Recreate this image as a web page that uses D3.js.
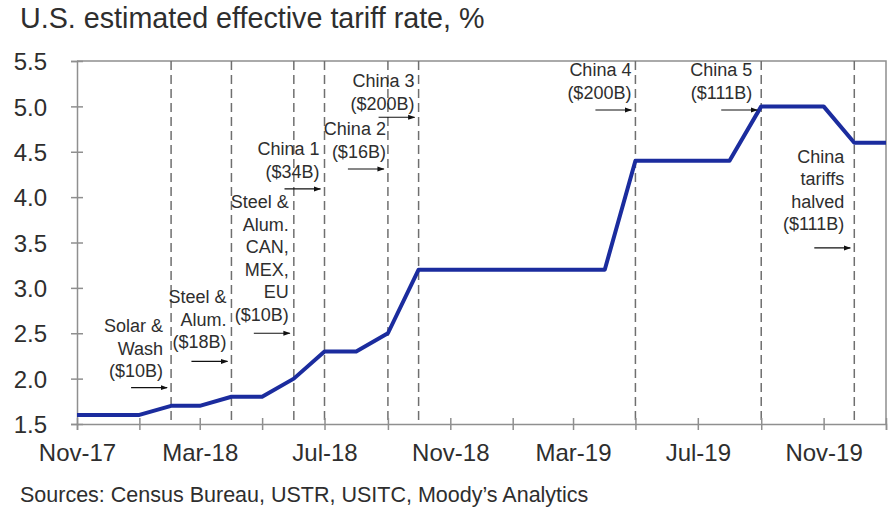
<!DOCTYPE html>
<html><head><meta charset="utf-8">
<script src="https://cdn.jsdelivr.net/npm/d3@7"></script>
<style>body{margin:0;background:#fff}svg{display:block;font-family:"Liberation Sans",Arial,sans-serif}</style>
</head><body><svg id="c" width="896" height="512"></svg>
<script>
// ---- data ----
const months = ["2017-11","2017-12","2018-01","2018-02","2018-03","2018-04","2018-05","2018-06","2018-07","2018-08","2018-09","2018-10","2018-11","2018-12","2019-01","2019-02","2019-03","2019-04","2019-05","2019-06","2019-07","2019-08","2019-09","2019-10","2019-11","2019-12","2020-01"];
const tariffRate = [1.6,1.6,1.6,1.7,1.7,1.8,1.8,2.0,2.3,2.3,2.5,3.2,3.2,3.2,3.2,3.2,3.2,3.2,4.4,4.4,4.4,4.4,5.0,5.0,5.0,4.6,4.6];
const yTicks = [1.5,2.0,2.5,3.0,3.5,4.0,4.5,5.0,5.5];
const xTickMonths = ["2017-11","2018-01","2018-03","2018-05","2018-07","2018-09","2018-11","2019-01","2019-03","2019-05","2019-07","2019-09","2019-11","2020-01"];
const xLabelMonths = ["2017-11","2018-03","2018-07","2018-11","2019-03","2019-07","2019-11"];
const eventMonths = ["2018-02","2018-04","2018-06","2018-07","2018-09","2018-10","2019-05","2019-09","2019-12"];
const eventLabels = [
  ["Solar &","Wash","($10B)"],
  ["Steel &","Alum.","($18B)"],
  ["Steel &","Alum.","CAN,","MEX,","EU","($10B)"],
  ["China 1","($34B)"],
  ["China 2","($16B)"],
  ["China 3","($200B)"],
  ["China 4","($200B)"],
  ["China 5","($111B)"],
  ["China","tariffs","halved","($111B)"]
];
// annotation layout (value units for first text line and arrow, pixel gap to the dashed line)
const labelTop = [2.51,2.83,3.88,4.46,4.68,5.21,5.33,5.33,4.38];
const arrowAt  = [1.90,2.19,2.50,4.09,4.31,4.88,4.96,4.96,3.44];
const labelGap = [8,5,5,5,2,4,4,9,10];
const title = "U.S. estimated effective tariff rate, %";
const source = "Sources: Census Bureau,  USTR, USITC, Moody\u2019s Analytics";

// ---- chart ----
const parse = d3.timeParse("%Y-%m");
const svg = d3.select("#c");
const L = 77, R = 886, T = 61, B = 424;
const x = d3.scaleTime().domain([parse("2017-11"), parse("2020-01")]).range([L, R]);
const y = d3.scaleLinear().domain([1.5, 5.5]).range([B, T]);
const axisCol = "#8f8f8f", textCol = "#2e2e2e";

svg.append("defs").append("marker").attr("id","ah").attr("viewBox","0 0 10 10")
  .attr("refX",9).attr("refY",5).attr("markerWidth",6).attr("markerHeight",6).attr("orient","auto")
  .append("path").attr("d","M0,1.5L10,5L0,8.5Z").attr("fill","#111");

// box (top and right)
svg.append("path").attr("d",`M${L},${T}H${R}V${B}`).attr("fill","none").attr("stroke",axisCol).attr("stroke-width",1.5);

// event dashed lines
svg.append("g").selectAll("line").data(eventMonths).join("line")
  .attr("x1",d=>x(parse(d))).attr("x2",d=>x(parse(d))).attr("y1",T).attr("y2",B)
  .attr("stroke","#6f6f6f").attr("stroke-width",1.5).attr("stroke-dasharray","9,5");

// y axis
const ya = svg.append("g").attr("transform",`translate(${L},0)`)
  .call(d3.axisLeft(y).tickValues(yTicks).tickFormat(d3.format(".1f")).tickSize(6).tickPadding(24));
ya.select(".domain").attr("stroke",axisCol).attr("stroke-width",1.5);
ya.selectAll(".tick line").attr("x1",-6).attr("x2",6).attr("stroke",axisCol).attr("stroke-width",1.5);
ya.selectAll(".tick text").attr("fill",textCol).style("font-size","24px").attr("dy","0.36em");

// x axis
const labelSet = new Set(xLabelMonths);
const xa = svg.append("g").attr("transform",`translate(0,${B})`)
  .call(d3.axisBottom(x).tickValues(xTickMonths.map(parse))
    .tickFormat(d => labelSet.has(d3.timeFormat("%Y-%m")(d)) ? d3.timeFormat("%b-%y")(d) : "")
    .tickSize(6).tickPadding(14));
xa.select(".domain").attr("stroke",axisCol).attr("stroke-width",1.5);
xa.selectAll(".tick line").attr("y1",-6).attr("y2",6).attr("stroke",axisCol).attr("stroke-width",1.5);
xa.selectAll(".tick text").attr("fill",textCol).style("font-size","24px");

// line
const data = months.map((m,i)=>({d:parse(m), v:tariffRate[i]}));
svg.append("path").datum(data).attr("fill","none").attr("stroke","#1b2c9e").attr("stroke-width",4)
  .attr("stroke-linejoin","round")
  .attr("d", d3.line().x(p=>x(p.d)).y(p=>y(p.v)));

// annotations
const ag = svg.append("g");
eventMonths.forEach((m,i)=>{
  const ex = x(parse(m));
  const t = ag.append("text").attr("text-anchor","end").attr("fill",textCol).style("font-size","18px");
  eventLabels[i].forEach((s,j)=>{
    t.append("tspan").attr("x", ex - labelGap[i]).attr("y", y(labelTop[i]) + j*22.5).text(s);
  });
  ag.append("line").attr("x1",ex-40).attr("x2",ex-4).attr("y1",y(arrowAt[i])).attr("y2",y(arrowAt[i]))
    .attr("stroke","#111").attr("stroke-width",1.2).attr("marker-end","url(#ah)");
});

// title & source
svg.append("text").attr("x",20).attr("y",28).attr("fill",textCol).style("font-size","28.7px").text(title);
svg.append("text").attr("x",20).attr("y",502).attr("fill",textCol).style("font-size","21.5px").text(source);
</script></body></html>
